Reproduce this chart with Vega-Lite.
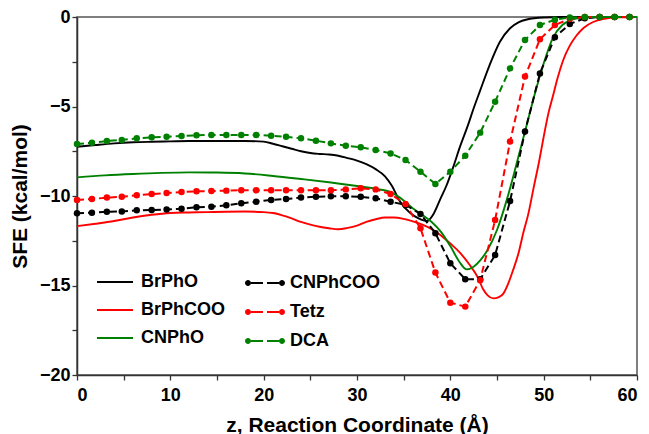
{
  "$schema": "https://vega.github.io/schema/vega-lite/v6.json",
  "width": 560,
  "height": 358,
  "autosize": "none",
  "padding": {"left": 77, "top": 17, "right": 12, "bottom": 59},
  "background": "white",
  "config": {
    "view": {"stroke": "#555555", "strokeWidth": 1.5},
    "font": "Liberation Sans",
    "axis": {
      "labelFont": "Liberation Sans", "labelFontWeight": "bold", "labelFontSize": 18, "labelColor": "black",
      "titleFont": "Liberation Sans", "titleFontWeight": "bold", "titleFontSize": 21, "titleColor": "black",
      "domainColor": "#333333", "domainWidth": 1.5, "tickColor": "#333333", "tickWidth": 1.3, "tickSize": 5, "grid": false
    },
    "legend": {
      "labelFont": "Liberation Sans", "labelFontWeight": "bold", "labelFontSize": 18, "labelColor": "black",
      "padding": 0
    }
  },
  "datasets": {
    "solid": [
      {"series":"BrPhO","z":0,"sfe":-7.25},{"series":"BrPhO","z":2,"sfe":-7.15},{"series":"BrPhO","z":4,"sfe":-7.06},{"series":"BrPhO","z":6,"sfe":-7.0},{"series":"BrPhO","z":8,"sfe":-6.97},{"series":"BrPhO","z":10,"sfe":-6.95},{"series":"BrPhO","z":12,"sfe":-6.93},{"series":"BrPhO","z":14,"sfe":-6.93},{"series":"BrPhO","z":16,"sfe":-6.93},{"series":"BrPhO","z":18,"sfe":-6.93},{"series":"BrPhO","z":20,"sfe":-6.96},{"series":"BrPhO","z":21,"sfe":-7.08},{"series":"BrPhO","z":22,"sfe":-7.22},{"series":"BrPhO","z":23,"sfe":-7.36},{"series":"BrPhO","z":24,"sfe":-7.5},{"series":"BrPhO","z":25,"sfe":-7.6},{"series":"BrPhO","z":26,"sfe":-7.65},{"series":"BrPhO","z":27,"sfe":-7.68},{"series":"BrPhO","z":28,"sfe":-7.75},{"series":"BrPhO","z":29,"sfe":-7.88},{"series":"BrPhO","z":30,"sfe":-8.02},{"series":"BrPhO","z":31,"sfe":-8.22},{"series":"BrPhO","z":32,"sfe":-8.5},{"series":"BrPhO","z":33,"sfe":-8.9},{"series":"BrPhO","z":33.7,"sfe":-9.4},{"series":"BrPhO","z":34.6,"sfe":-10.3},{"series":"BrPhO","z":35.7,"sfe":-10.95},{"series":"BrPhO","z":36.6,"sfe":-11.25},{"series":"BrPhO","z":37.5,"sfe":-11.4},{"series":"BrPhO","z":38.2,"sfe":-11.0},{"series":"BrPhO","z":38.9,"sfe":-10.2},{"series":"BrPhO","z":39.6,"sfe":-9.4},{"series":"BrPhO","z":40.3,"sfe":-8.4},{"series":"BrPhO","z":41.0,"sfe":-7.3},{"series":"BrPhO","z":41.9,"sfe":-6.03},{"series":"BrPhO","z":42.5,"sfe":-5.1},{"series":"BrPhO","z":43.2,"sfe":-4.1},{"series":"BrPhO","z":44.2,"sfe":-2.7},{"series":"BrPhO","z":45.3,"sfe":-1.4},{"series":"BrPhO","z":46.4,"sfe":-0.63},{"series":"BrPhO","z":47.3,"sfe":-0.3},{"series":"BrPhO","z":48.2,"sfe":-0.14},{"series":"BrPhO","z":50,"sfe":-0.03},{"series":"BrPhO","z":52,"sfe":0},{"series":"BrPhO","z":60,"sfe":0},
      {"series":"BrPhCOO","z":0,"sfe":-11.68},{"series":"BrPhCOO","z":2,"sfe":-11.55},{"series":"BrPhCOO","z":4,"sfe":-11.4},{"series":"BrPhCOO","z":6,"sfe":-11.2},{"series":"BrPhCOO","z":8,"sfe":-11.05},{"series":"BrPhCOO","z":10,"sfe":-10.95},{"series":"BrPhCOO","z":12,"sfe":-10.92},{"series":"BrPhCOO","z":14,"sfe":-10.9},{"series":"BrPhCOO","z":16,"sfe":-10.88},{"series":"BrPhCOO","z":18,"sfe":-10.87},{"series":"BrPhCOO","z":20,"sfe":-10.9},{"series":"BrPhCOO","z":21,"sfe":-10.95},{"series":"BrPhCOO","z":22,"sfe":-11.08},{"series":"BrPhCOO","z":23,"sfe":-11.25},{"series":"BrPhCOO","z":24,"sfe":-11.45},{"series":"BrPhCOO","z":25,"sfe":-11.6},{"series":"BrPhCOO","z":26,"sfe":-11.72},{"series":"BrPhCOO","z":27,"sfe":-11.8},{"series":"BrPhCOO","z":28,"sfe":-11.86},{"series":"BrPhCOO","z":29,"sfe":-11.78},{"series":"BrPhCOO","z":30,"sfe":-11.65},{"series":"BrPhCOO","z":31,"sfe":-11.45},{"series":"BrPhCOO","z":32,"sfe":-11.3},{"series":"BrPhCOO","z":33,"sfe":-11.2},{"series":"BrPhCOO","z":34,"sfe":-11.2},{"series":"BrPhCOO","z":35,"sfe":-11.28},{"series":"BrPhCOO","z":36,"sfe":-11.42},{"series":"BrPhCOO","z":37,"sfe":-11.6},{"series":"BrPhCOO","z":38,"sfe":-11.85},{"series":"BrPhCOO","z":39,"sfe":-12.2},{"series":"BrPhCOO","z":40,"sfe":-12.65},{"series":"BrPhCOO","z":41,"sfe":-13.15},{"series":"BrPhCOO","z":42,"sfe":-13.8},{"series":"BrPhCOO","z":43,"sfe":-14.6},{"series":"BrPhCOO","z":43.5,"sfe":-15.2},{"series":"BrPhCOO","z":44,"sfe":-15.55},{"series":"BrPhCOO","z":44.6,"sfe":-15.72},{"series":"BrPhCOO","z":45.2,"sfe":-15.65},{"series":"BrPhCOO","z":45.7,"sfe":-15.44},{"series":"BrPhCOO","z":46.2,"sfe":-14.9},{"series":"BrPhCOO","z":46.75,"sfe":-14.1},{"series":"BrPhCOO","z":47.3,"sfe":-13.2},{"series":"BrPhCOO","z":47.8,"sfe":-12.1},{"series":"BrPhCOO","z":48.4,"sfe":-10.9},{"series":"BrPhCOO","z":48.9,"sfe":-9.6},{"series":"BrPhCOO","z":49.5,"sfe":-8.1},{"series":"BrPhCOO","z":50.0,"sfe":-6.7},{"series":"BrPhCOO","z":50.5,"sfe":-5.4},{"series":"BrPhCOO","z":51.0,"sfe":-4.4},{"series":"BrPhCOO","z":51.5,"sfe":-3.4},{"series":"BrPhCOO","z":52.1,"sfe":-2.4},{"series":"BrPhCOO","z":52.8,"sfe":-1.6},{"series":"BrPhCOO","z":53.5,"sfe":-1.05},{"series":"BrPhCOO","z":54.3,"sfe":-0.6},{"series":"BrPhCOO","z":55.3,"sfe":-0.28},{"series":"BrPhCOO","z":56.5,"sfe":-0.1},{"series":"BrPhCOO","z":58,"sfe":-0.02},{"series":"BrPhCOO","z":60,"sfe":0},
      {"series":"CNPhO","z":0,"sfe":-8.96},{"series":"CNPhO","z":3,"sfe":-8.85},{"series":"CNPhO","z":6,"sfe":-8.77},{"series":"CNPhO","z":9,"sfe":-8.71},{"series":"CNPhO","z":12,"sfe":-8.68},{"series":"CNPhO","z":15,"sfe":-8.69},{"series":"CNPhO","z":18,"sfe":-8.74},{"series":"CNPhO","z":21,"sfe":-8.88},{"series":"CNPhO","z":24,"sfe":-9.05},{"series":"CNPhO","z":27,"sfe":-9.23},{"series":"CNPhO","z":30,"sfe":-9.44},{"series":"CNPhO","z":32,"sfe":-9.6},{"series":"CNPhO","z":33.5,"sfe":-9.76},{"series":"CNPhO","z":35,"sfe":-10.25},{"series":"CNPhO","z":36,"sfe":-10.7},{"series":"CNPhO","z":37,"sfe":-11.05},{"series":"CNPhO","z":38,"sfe":-11.45},{"series":"CNPhO","z":39,"sfe":-12.0},{"series":"CNPhO","z":40,"sfe":-12.8},{"series":"CNPhO","z":41,"sfe":-13.7},{"series":"CNPhO","z":41.75,"sfe":-14.1},{"series":"CNPhO","z":42.5,"sfe":-13.95},{"series":"CNPhO","z":43.2,"sfe":-13.6},{"series":"CNPhO","z":44,"sfe":-13.0},{"series":"CNPhO","z":45,"sfe":-11.9},{"series":"CNPhO","z":46,"sfe":-10.3},{"series":"CNPhO","z":47,"sfe":-8.4},{"series":"CNPhO","z":48,"sfe":-6.4},{"series":"CNPhO","z":49,"sfe":-4.4},{"series":"CNPhO","z":50,"sfe":-2.6},{"series":"CNPhO","z":51,"sfe":-1.15},{"series":"CNPhO","z":52,"sfe":-0.45},{"series":"CNPhO","z":53,"sfe":-0.15},{"series":"CNPhO","z":54,"sfe":-0.04},{"series":"CNPhO","z":56,"sfe":0},{"series":"CNPhO","z":60,"sfe":0}
    ],
    "dashed": [
      {"series":"CNPhCOO","z":0,"sfe":-10.97},{"series":"CNPhCOO","z":1.6,"sfe":-10.93},{"series":"CNPhCOO","z":3.2,"sfe":-10.88},{"series":"CNPhCOO","z":4.8,"sfe":-10.86},{"series":"CNPhCOO","z":6.4,"sfe":-10.8},{"series":"CNPhCOO","z":8.0,"sfe":-10.78},{"series":"CNPhCOO","z":9.6,"sfe":-10.75},{"series":"CNPhCOO","z":11.2,"sfe":-10.71},{"series":"CNPhCOO","z":12.8,"sfe":-10.63},{"series":"CNPhCOO","z":14.4,"sfe":-10.6},{"series":"CNPhCOO","z":16.0,"sfe":-10.52},{"series":"CNPhCOO","z":17.6,"sfe":-10.41},{"series":"CNPhCOO","z":19.2,"sfe":-10.32},{"series":"CNPhCOO","z":20.8,"sfe":-10.22},{"series":"CNPhCOO","z":22.4,"sfe":-10.17},{"series":"CNPhCOO","z":24.0,"sfe":-10.09},{"series":"CNPhCOO","z":25.6,"sfe":-10.04},{"series":"CNPhCOO","z":27.2,"sfe":-10.02},{"series":"CNPhCOO","z":28.8,"sfe":-10.02},{"series":"CNPhCOO","z":30.4,"sfe":-10.04},{"series":"CNPhCOO","z":32.0,"sfe":-10.13},{"series":"CNPhCOO","z":33.6,"sfe":-10.32},{"series":"CNPhCOO","z":35.2,"sfe":-10.5},{"series":"CNPhCOO","z":36.8,"sfe":-11.0},{"series":"CNPhCOO","z":38.4,"sfe":-12.08},{"series":"CNPhCOO","z":40.0,"sfe":-13.76},{"series":"CNPhCOO","z":41.6,"sfe":-14.65},{"series":"CNPhCOO","z":43.2,"sfe":-14.65},{"series":"CNPhCOO","z":44.8,"sfe":-13.3},{"series":"CNPhCOO","z":46.4,"sfe":-10.28},{"series":"CNPhCOO","z":48.0,"sfe":-6.4},{"series":"CNPhCOO","z":49.6,"sfe":-3.15},{"series":"CNPhCOO","z":51.2,"sfe":-1.13},{"series":"CNPhCOO","z":52.8,"sfe":-0.39},{"series":"CNPhCOO","z":54.4,"sfe":-0.07},{"series":"CNPhCOO","z":56.0,"sfe":0},{"series":"CNPhCOO","z":57.6,"sfe":0},{"series":"CNPhCOO","z":59.2,"sfe":0},
      {"series":"Tetz","z":0,"sfe":-10.22},{"series":"Tetz","z":1.6,"sfe":-10.17},{"series":"Tetz","z":3.2,"sfe":-10.09},{"series":"Tetz","z":4.8,"sfe":-10.04},{"series":"Tetz","z":6.4,"sfe":-9.96},{"series":"Tetz","z":8.0,"sfe":-9.89},{"series":"Tetz","z":9.6,"sfe":-9.83},{"series":"Tetz","z":11.2,"sfe":-9.78},{"series":"Tetz","z":12.8,"sfe":-9.74},{"series":"Tetz","z":14.4,"sfe":-9.72},{"series":"Tetz","z":16.0,"sfe":-9.7},{"series":"Tetz","z":17.6,"sfe":-9.68},{"series":"Tetz","z":19.2,"sfe":-9.68},{"series":"Tetz","z":20.8,"sfe":-9.68},{"series":"Tetz","z":22.4,"sfe":-9.68},{"series":"Tetz","z":24.0,"sfe":-9.68},{"series":"Tetz","z":25.6,"sfe":-9.68},{"series":"Tetz","z":27.2,"sfe":-9.68},{"series":"Tetz","z":28.8,"sfe":-9.63},{"series":"Tetz","z":30.4,"sfe":-9.57},{"series":"Tetz","z":32.0,"sfe":-9.63},{"series":"Tetz","z":33.6,"sfe":-9.89},{"series":"Tetz","z":35.2,"sfe":-10.45},{"series":"Tetz","z":36.8,"sfe":-11.8},{"series":"Tetz","z":38.4,"sfe":-14.28},{"series":"Tetz","z":40.0,"sfe":-15.96},{"series":"Tetz","z":41.6,"sfe":-16.18},{"series":"Tetz","z":43.2,"sfe":-14.7},{"series":"Tetz","z":44.8,"sfe":-11.34},{"series":"Tetz","z":46.4,"sfe":-6.96},{"series":"Tetz","z":48.0,"sfe":-3.33},{"series":"Tetz","z":49.6,"sfe":-1.24},{"series":"Tetz","z":51.2,"sfe":-0.45},{"series":"Tetz","z":52.8,"sfe":-0.1},{"series":"Tetz","z":54.4,"sfe":0},{"series":"Tetz","z":56.0,"sfe":0},{"series":"Tetz","z":57.6,"sfe":0},{"series":"Tetz","z":59.2,"sfe":0},
      {"series":"DCA","z":0,"sfe":-7.1},{"series":"DCA","z":1.6,"sfe":-7.02},{"series":"DCA","z":3.2,"sfe":-6.93},{"series":"DCA","z":4.8,"sfe":-6.87},{"series":"DCA","z":6.4,"sfe":-6.78},{"series":"DCA","z":8.0,"sfe":-6.72},{"series":"DCA","z":9.6,"sfe":-6.69},{"series":"DCA","z":11.2,"sfe":-6.65},{"series":"DCA","z":12.8,"sfe":-6.61},{"series":"DCA","z":14.4,"sfe":-6.59},{"series":"DCA","z":16.0,"sfe":-6.59},{"series":"DCA","z":17.6,"sfe":-6.59},{"series":"DCA","z":19.2,"sfe":-6.59},{"series":"DCA","z":20.8,"sfe":-6.63},{"series":"DCA","z":22.4,"sfe":-6.69},{"series":"DCA","z":24.0,"sfe":-6.78},{"series":"DCA","z":25.6,"sfe":-6.91},{"series":"DCA","z":27.2,"sfe":-7.06},{"series":"DCA","z":28.8,"sfe":-7.19},{"series":"DCA","z":30.4,"sfe":-7.28},{"series":"DCA","z":32.0,"sfe":-7.43},{"series":"DCA","z":33.6,"sfe":-7.62},{"series":"DCA","z":35.2,"sfe":-7.99},{"series":"DCA","z":36.8,"sfe":-8.64},{"series":"DCA","z":38.4,"sfe":-9.33},{"series":"DCA","z":40.0,"sfe":-8.64},{"series":"DCA","z":41.6,"sfe":-7.75},{"series":"DCA","z":43.2,"sfe":-6.46},{"series":"DCA","z":44.8,"sfe":-4.73},{"series":"DCA","z":46.4,"sfe":-2.87},{"series":"DCA","z":48.0,"sfe":-1.28},{"series":"DCA","z":49.6,"sfe":-0.45},{"series":"DCA","z":51.2,"sfe":-0.15},{"series":"DCA","z":52.8,"sfe":-0.03},{"series":"DCA","z":54.4,"sfe":0},{"series":"DCA","z":56.0,"sfe":0},{"series":"DCA","z":57.6,"sfe":0},{"series":"DCA","z":59.2,"sfe":0}
    ]
  },
  "encoding": {
    "x": {"field": "z", "type": "quantitative",
      "scale": {"domain": [0, 60], "nice": false},
      "axis": {"title": "z, Reaction Coordinate (Å)", "values": [0,5,10,15,20,25,30,35,40,45,50,55,60],
        "labelExpr": "datum.value % 10 === 0 ? datum.label : ''", "labelOverlap": false, "labelPadding": 6, "titlePadding": 10}},
    "y": {"field": "sfe", "type": "quantitative",
      "scale": {"domain": [-20, 0], "nice": false},
      "axis": {"title": "SFE (kcal/mol)", "values": [-20,-17.5,-15,-12.5,-10,-7.5,-5,-2.5,0],
        "labelExpr": "datum.value % 5 === 0 ? datum.label : ''", "labelOverlap": false, "labelPadding": 2, "titlePadding": 9}}
  },
  "layer": [
    {
      "data": {"name": "solid"},
      "mark": {"type": "line", "strokeWidth": 1.9, "interpolate": "monotone"},
      "encoding": {
        "color": {"field": "series", "type": "nominal",
          "scale": {"domain": ["BrPhO", "BrPhCOO", "CNPhO"], "range": ["#000000", "#ff0000", "#008000"]},
          "legend": {"title": null, "orient": "none", "legendX": 19, "legendY": 246,
            "symbolType": "stroke", "symbolSize": 1296, "symbolStrokeWidth": 1.8, "labelOffset": 7, "rowPadding": -2}}
      }
    },
    {
      "data": {"name": "dashed"},
      "mark": {"type": "line", "strokeWidth": 2, "strokeDash": [7, 4], "point": {"filled": true, "size": 42}},
      "encoding": {
        "color": {"field": "series", "type": "nominal",
          "scale": {"domain": ["CNPhCOO", "Tetz", "DCA"], "range": ["#000000", "#ff0000", "#008000"]},
          "legend": {"title": null, "orient": "none", "legendX": 168, "legendY": 246,
            "symbolType": "M-0.7,-0.045 L-0.1,-0.045 L-0.1,0.045 L-0.7,0.045 Z M0.1,-0.045 L0.7,-0.045 L0.7,0.045 L0.1,0.045 Z M-0.7,0 A0.15,0.15 0 1,1 -1,0 A0.15,0.15 0 1,1 -0.7,0 Z M1,0 A0.15,0.15 0 1,1 0.7,0 A0.15,0.15 0 1,1 1,0 Z",
            "symbolSize": 1600, "symbolStrokeWidth": 0, "labelOffset": 5, "rowPadding": -2,
            "encode": {"symbols": {"update": {"fill": {"signal": "datum.value === 'Tetz' ? '#ff0000' : datum.value === 'DCA' ? '#008000' : '#000000'"}, "opacity": {"value": 1}}}}}}
      }
    }
  ],
  "resolve": {"scale": {"color": "independent"}}
}
